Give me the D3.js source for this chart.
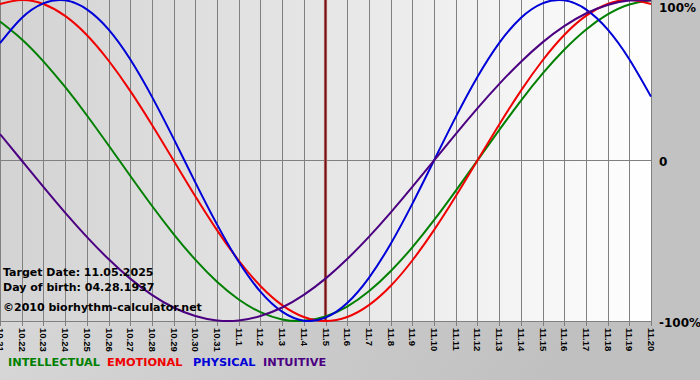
<!DOCTYPE html>
<html>
<head>
<meta charset="utf-8">
<script src="https://cdn.jsdelivr.net/npm/d3@7"></script>
<style>
  html, body { margin: 0; padding: 0; background: #ffffff; }
  svg { display: block; }
</style>
</head>
<body>
<svg id="chart" width="700" height="380"></svg>
<script>
// ---- data ----
const dates = ["10.21","10.22","10.23","10.24","10.25","10.26","10.27","10.28","10.29","10.30","10.31",
  "11.1","11.2","11.3","11.4","11.5","11.6","11.7","11.8","11.9","11.10","11.11","11.12","11.13","11.14",
  "11.15","11.16","11.17","11.18","11.19","11.20"];
const intellectual = [0.866,0.756,0.618,0.458,0.282,0.095,-0.095,-0.282,-0.458,-0.618,-0.756,-0.866,-0.945,-0.990,-0.999,
  -0.972,-0.910,-0.815,-0.690,-0.541,-0.372,-0.189,0,0.189,0.372,0.541,0.690,0.815,0.910,0.972,0.999];
const emotional = [0.975,1,0.975,0.901,0.782,0.623,0.434,0.223,0,-0.223,-0.434,-0.623,-0.782,-0.901,-0.975,
  -1,-0.975,-0.901,-0.782,-0.623,-0.434,-0.223,0,0.223,0.434,0.623,0.782,0.901,0.975,1,0.975];
const physical = [0.731,0.888,0.979,0.998,0.942,0.817,0.631,0.398,0.136,-0.136,-0.398,-0.631,-0.817,-0.942,-0.998,
  -0.979,-0.888,-0.731,-0.520,-0.270,0,0.270,0.520,0.731,0.888,0.979,0.998,0.942,0.817,0.631,0.398];
const intuitive = [0.165,0,-0.165,-0.325,-0.476,-0.614,-0.736,-0.837,-0.916,-0.969,-0.997,-0.997,-0.969,-0.916,-0.837,
  -0.736,-0.614,-0.476,-0.325,-0.165,0,0.165,0.325,0.476,0.614,0.736,0.837,0.916,0.969,0.997,0.997];
const seriesNames = ["INTELLECTUAL","EMOTIONAL","PHYSICAL","INTUITIVE"];
const yTickValues = [1, 0, -1];
const yTickLabels = ["100%", "0", "-100%"];
const targetDate = "11.5";
const infoLines = ["Target Date: 11.05.2025", "Day of birth: 04.28.1937", "\u00A92010 biorhythm-calculator.net"];

// ---- drawing ----
const svg = d3.select("#chart");
const W = 700, H = 380;
const plotW = 651, plotH = 321;

const defs = svg.append("defs");
const gPlot = defs.append("linearGradient").attr("id", "plotBg").attr("x1", 0).attr("x2", 1).attr("y1", 0).attr("y2", 0);
gPlot.append("stop").attr("offset", "0%").attr("stop-color", "#d3d3d3");
gPlot.append("stop").attr("offset", "50%").attr("stop-color", "#e6e6e6");
gPlot.append("stop").attr("offset", "100%").attr("stop-color", "#ffffff");
const gBot = defs.append("linearGradient").attr("id", "botBg").attr("x1", 0).attr("x2", 1).attr("y1", 0).attr("y2", 0.3);
gBot.append("stop").attr("offset", "0%").attr("stop-color", "#dedede");
gBot.append("stop").attr("offset", "100%").attr("stop-color", "#c0c0c0");
defs.append("clipPath").attr("id", "plotClip").append("rect")
  .attr("x", 0).attr("y", 0).attr("width", plotW + 1).attr("height", plotH + 1);

// backgrounds
svg.append("rect").attr("x", 0).attr("y", 0).attr("width", W).attr("height", H).attr("fill", "url(#botBg)");
svg.append("rect").attr("x", plotW).attr("y", 0).attr("width", W - plotW).attr("height", plotH + 1).attr("fill", "#c2c2c2");
svg.append("rect").attr("x", 0).attr("y", 0).attr("width", plotW + 1).attr("height", plotH + 1).attr("fill", "url(#plotBg)");

const x = d3.scalePoint().domain(dates).range([0, plotW]);
const y = d3.scaleLinear().domain([-1, 1]).range([plotH, 0]);
const px = d => Math.round(x(d)) + 0.5;

// vertical grid
svg.append("g").selectAll("line").data(dates).join("line")
  .attr("x1", px).attr("x2", px).attr("y1", 0).attr("y2", plotH + 5)
  .attr("stroke", "#808080").attr("stroke-width", 1);

// horizontal lines
svg.append("line").attr("x1", 0).attr("x2", plotW + 1)
  .attr("y1", Math.floor(y(0)) + 0.5).attr("y2", Math.floor(y(0)) + 0.5)
  .attr("stroke", "#808080");
svg.append("line").attr("x1", 0).attr("x2", plotW + 1)
  .attr("y1", plotH + 0.5).attr("y2", plotH + 0.5)
  .attr("stroke", "#808080");

// target date line
svg.append("line").attr("x1", x(targetDate)).attr("x2", x(targetDate))
  .attr("y1", 0).attr("y2", plotH)
  .attr("stroke", "#c08080").attr("stroke-width", 3.2);
svg.append("line").attr("x1", x(targetDate)).attr("x2", x(targetDate))
  .attr("y1", 0).attr("y2", plotH)
  .attr("stroke", "#741010").attr("stroke-width", 1.8);

// curves
const colors = ["#008000", "#f00000", "#0000d8", "#4b0082"];
const allSeries = [intellectual, emotional, physical, intuitive];
const line = d3.line().x((d, i) => x(dates[i])).y(d => y(d)).curve(d3.curveNatural);
svg.append("g").attr("clip-path", "url(#plotClip)")
  .selectAll("path").data(allSeries).join("path")
  .attr("d", line).attr("fill", "none")
  .attr("stroke", (d, i) => colors[i]).attr("stroke-width", 2);

// x tick labels
svg.append("g").selectAll("text").data(dates).join("text")
  .attr("transform", d => `translate(${px(d)},328) rotate(90)`)
  .attr("dy", "0.35em")
  .attr("text-anchor", "start")
  .attr("font-family", "'Liberation Sans', Arial, sans-serif")
  .attr("font-weight", "bold")
  .attr("font-size", 9.5)
  .attr("fill", "#000")
  .text(d => d);

// y labels
svg.append("g").selectAll("text").data(yTickValues).join("text")
  .attr("x", 659)
  .attr("y", v => Math.max(y(v) + 5.5, 12))
  .attr("font-family", "'DejaVu Sans', Verdana, sans-serif")
  .attr("font-weight", "bold")
  .attr("font-size", 12)
  .attr("fill", "#000")
  .text((v, i) => yTickLabels[i]);

// info text
const infoY = [276, 291, 311];
svg.append("g").selectAll("text").data(infoLines).join("text")
  .attr("x", 3).attr("y", (d, i) => infoY[i])
  .attr("font-family", "'DejaVu Sans', Verdana, sans-serif")
  .attr("font-weight", "bold")
  .attr("font-size", 11)
  .attr("fill", "#000")
  .text(d => d);

// legend
const legendX = [8, 107, 193, 263];
svg.append("g").selectAll("text").data(seriesNames).join("text")
  .attr("x", (d, i) => legendX[i]).attr("y", 366)
  .attr("font-family", "'DejaVu Sans', Verdana, sans-serif")
  .attr("font-weight", "bold")
  .attr("font-size", 11.3)
  .attr("fill", (d, i) => colors[i])
  .text(d => d);
</script>
</body>
</html>
